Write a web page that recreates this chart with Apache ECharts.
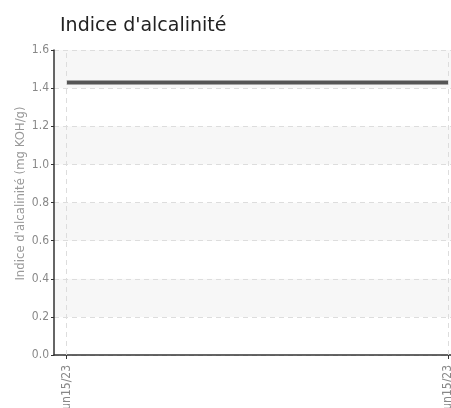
<!DOCTYPE html>
<html><head><meta charset="utf-8">
<script src="https://cdn.jsdelivr.net/npm/echarts@6/dist/echarts.min.js"></script>
<style>html,body{margin:0;padding:0;background:#fff}#c{width:451px;height:408px}</style>
</head><body><div id="c"></div>
<script>
var categories = ["Jun15/23", "Jun15/23"];
var values = [1.43, 1.43];
var yTicks = [0, 0.2, 0.4, 0.6, 0.8, 1.0, 1.2, 1.4, 1.6];
var titleText = "Indice d'alcalinité";
var yName = "Indice d'alcalinité (mg KOH/g)";

var idx = categories.map(function(_, i){ return i; });
var chart = echarts.init(document.getElementById('c'), null, {renderer:'canvas'});
var narrow = "'DejaVu Sans Condensed','Liberation Sans Narrow',sans-serif";
chart.setOption({
  animation: false,
  title: { text: titleText, left: 55, top: 12, textStyle: { fontFamily: "'DejaVu Sans',sans-serif", fontSize: 19, fontWeight: 'normal', color: '#222' } },
  grid: { left: 54, right: 0, top: 50, bottom: 53, containLabel: false, outerBoundsMode: 'none' },
  xAxis: {
    type: 'value', min: -0.0333, max: 1.0071,
    axisLine: { show: true, onZero: false, lineStyle: { color: '#333', width: 1.5 } },
    axisTick: { show: true, customValues: idx, length: 4, lineStyle: { color: '#333' } },
    axisLabel: { customValues: idx, rotate: 90, margin: 10, color: '#888', fontSize: 12, fontFamily: narrow,
      formatter: function(v){ return categories[Math.round(v)]; } },
    splitLine: { show: false }
  },
  yAxis: {
    type: 'value', min: yTicks[0], max: yTicks[yTicks.length-1], interval: 0.2,
    name: yName, nameLocation: 'middle', nameGap: 27, nameMoveOverlap: false,
    nameTextStyle: { color: '#999', fontSize: 13, fontFamily: narrow, padding: [0, 0, 0, 18] },
    axisLine: { show: true, onZero: false, lineStyle: { color: '#333', width: 1.5 } },
    axisTick: { show: true, length: 3, lineStyle: { color: '#333' } },
    axisLabel: { margin: 5, color: '#888', fontSize: 12, fontFamily: narrow, formatter: function(v){ return v.toFixed(1); } },
    splitLine: { show: true, lineStyle: { color: '#ddd', type: [5, 4] } },
    splitArea: { show: true, areaStyle: { color: ['#ffffff', '#f7f7f7'] } }
  },
  series: [{
    type: 'line',
    data: values.map(function(v, i){ return [idx[i], v]; }),
    showSymbol: false, symbol: 'none',
    lineStyle: { color: '#555', width: 4 },
    markLine: {
      silent: true, symbol: 'none', label: { show: false },
      lineStyle: { color: '#ddd', type: [5, 4], width: 1 },
      data: idx.map(function(i){ return { xAxis: i }; })
    },
    z: 3
  }]
});
</script></body></html>
